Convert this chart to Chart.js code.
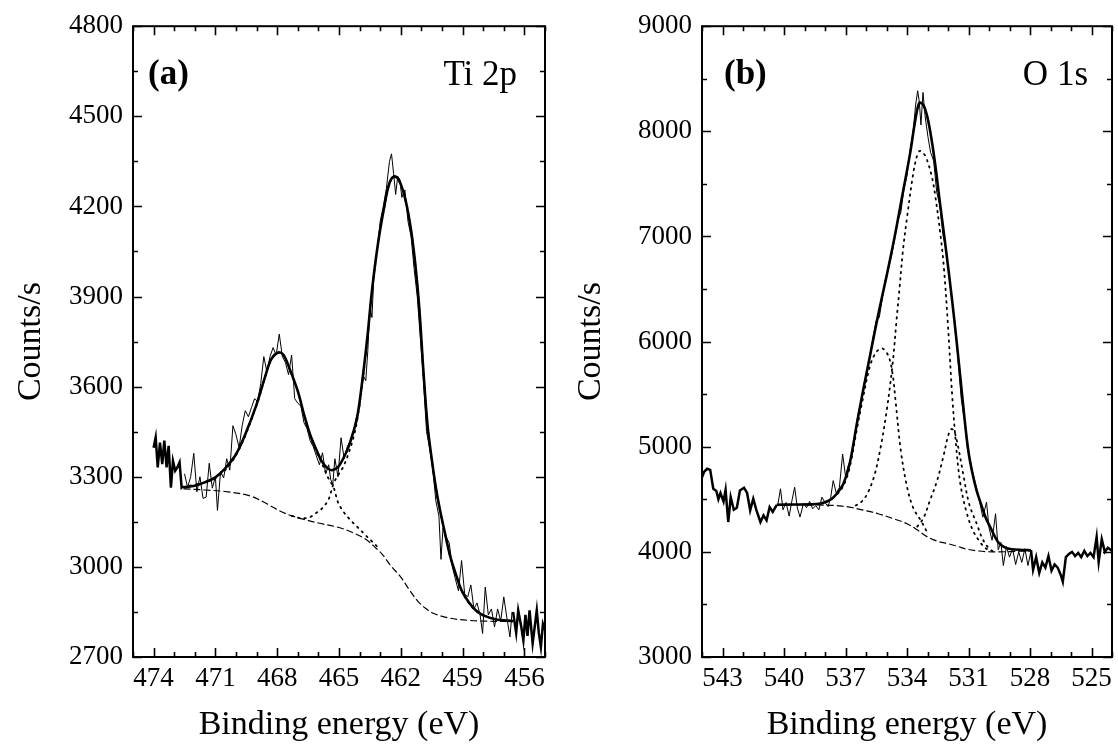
<!DOCTYPE html>
<html>
<head>
<meta charset="utf-8">
<script src="https://cdn.jsdelivr.net/npm/chart.js@4.4.1/dist/chart.umd.min.js"></script>
<style>
html,body{margin:0;padding:0;background:#fff;}
#wrap{position:relative;width:1118px;height:751px;background:#fff;}
canvas{position:absolute;top:0;}
</style>
</head>
<body>
<div id="wrap">
<canvas id="ca" width="559" height="751" style="left:0"></canvas>
<canvas id="cb" width="559" height="751" style="left:559px"></canvas>
</div>
<script>
// ---------- Panel (a) Ti 2p ----------
const tiXTicks = [474,471,468,465,462,459,456];
const tiYTicks = [2700,3000,3300,3600,3900,4200,4500,4800];

const tiRawE = [472.5,472.35,472.2,472.05,471.9,471.75,471.6,471.45,471.3,471.15,471.0,470.9,470.75,470.6,470.45,470.3,470.15,470.0,469.85,469.7,469.55,469.4,469.25,469.1,468.95,468.8,468.65,468.5,468.35,468.2,468.05,467.9,467.75,467.6,467.45,467.3,467.15,467.0,466.85,466.7,466.55,466.4,466.25,466.1,465.95,465.8,465.65,465.5,465.4,465.3,465.2,465.05,464.9,464.75,464.6,464.45,464.3,464.15,464.0,463.85,463.7,463.6,463.5,463.4,463.3,463.15,463.0,462.85,462.7,462.55,462.45,462.35,462.25,462.15,462.05,461.95,461.8,461.65,461.5,461.35,461.2,461.05,460.9,460.75,460.6,460.45,460.3,460.15,460.05,459.95,459.8,459.65,459.5,459.35,459.2,459.05,458.9,458.75,458.6,458.45,458.3,458.15,458.03,457.9,457.75,457.6,457.45,457.3,457.15,457.0,456.85,456.7,456.6];
const tiRawC = [3310,3265,3300,3378,3250,3300,3228,3232,3345,3262,3300,3188,3318,3296,3360,3322,3470,3440,3397,3470,3520,3500,3530,3560,3550,3610,3700,3650,3700,3730,3705,3775,3700,3680,3640,3705,3560,3545,3535,3480,3460,3420,3400,3370,3340,3380,3310,3340,3290,3276,3360,3300,3430,3360,3400,3420,3450,3500,3530,3640,3620,3720,3870,3830,3980,4050,4150,4200,4260,4350,4375,4310,4240,4300,4290,4230,4255,4150,4100,3990,3900,3760,3620,3450,3395,3330,3220,3170,3025,3130,3100,3080,3000,2960,2920,3021,2910,2900,2940,2860,2880,2840,2778,2933,2840,2860,2800,2860,2820,2900,2830,2767,2850];

const tiEdgeLE = [474.0,473.9,473.8,473.69,473.58,473.48,473.37,473.27,473.16,473.06,472.95,472.85,472.74,472.64,472.55];
const tiEdgeLC = [3397,3431,3331,3414,3342,3420,3331,3403,3264,3353,3320,3331,3348,3264,3270];
const tiEdgeRE = [456.55,456.4,456.3,456.15,456.05,455.95,455.85,455.75,455.6,455.5,455.4,455.3,455.2,455.1,455.0];
const tiEdgeRC = [2850,2780,2855,2800,2755,2840,2770,2855,2745,2800,2855,2780,2733,2810,2790];

const tiFitE = [472.55,472.0,471.5,471.0,470.5,470.0,469.5,469.0,468.6,468.3,467.95,467.7,467.4,467.0,466.7,466.4,466.1,465.85,465.55,465.33,465.05,464.8,464.55,464.3,464.1,463.85,463.6,463.4,463.1,462.8,462.55,462.3,462.05,461.75,461.5,461.3,461.1,460.9,460.7,460.5,460.3,460.1,459.85,459.6,459.3,459.05,458.7,458.35,457.9,457.3,456.55];
const tiFitC = [3265,3270,3282,3298,3330,3375,3450,3541,3630,3690,3714,3706,3660,3585,3508,3440,3390,3353,3328,3322,3332,3360,3397,3450,3505,3630,3780,3920,4080,4200,4278,4300,4282,4215,4120,4010,3860,3650,3470,3360,3265,3190,3110,3035,2970,2922,2882,2855,2836,2824,2820];

const tiBgE = [472.55,471.5,470.4,469.3,468.5,467.9,467.3,466.7,466.0,465.0,464.2,463.6,463.2,462.9,462.5,462.0,461.6,461.2,460.8,460.4,459.8,459.2,458.2,456.55];
const tiBgC = [3260,3256,3250,3236,3210,3187,3170,3158,3146,3131,3110,3087,3062,3042,3005,2966,2925,2888,2862,2845,2832,2825,2820,2818];

const tiP1E = [472.55,471.0,470.0,469.0,468.6,468.3,467.95,467.7,467.4,467.0,466.7,466.4,466.1,465.85,465.55,465.25,465.05,464.8,464.5,464.1,463.75,463.4,463.0];
const tiP1C = [3265,3296,3372,3538,3628,3688,3712,3704,3658,3583,3505,3436,3384,3348,3300,3262,3215,3185,3160,3132,3108,3085,3058];

const tiP2E = [467.3,466.8,466.4,466.1,465.8,465.5,465.25,465.0,464.8,464.55,464.3,464.1,463.85,463.6,463.4,463.1,462.8,462.55,462.3,462.05,461.75,461.5,461.3,461.1,460.9,460.7,460.5,460.3,460.1,459.85,459.6,459.3,459.05,458.7,458.35,457.9];
const tiP2C = [3170,3162,3166,3180,3196,3226,3280,3310,3332,3375,3430,3495,3622,3774,3916,4078,4198,4276,4298,4280,4213,4118,4008,3858,3648,3468,3358,3263,3188,3108,3033,2968,2920,2880,2853,2834];

// ---------- Panel (b) O 1s ----------
const oXTicks = [543,540,537,534,531,528,525];
const oYTicks = [3000,4000,5000,6000,7000,8000,9000];

const oRawE = [540.3,540.17,540.05,539.9,539.75,539.6,539.48,539.35,539.22,539.05,538.9,538.75,538.6,538.45,538.3,538.15,538.0,537.85,537.72,537.6,537.45,537.3,537.14,537.0,536.85,536.7,536.55,536.4,536.25,536.1,535.95,535.8,535.65,535.5,535.35,535.2,535.05,534.9,534.75,534.6,534.45,534.3,534.15,534.0,533.85,533.7,533.58,533.48,533.4,533.32,533.22,533.12,532.98,532.85,532.7,532.55,532.4,532.25,532.1,531.95,531.8,531.65,531.5,531.35,531.2,531.05,530.9,530.75,530.6,530.45,530.3,530.12,530.0,529.85,529.68,529.55,529.42,529.3,529.15,529.0,528.85,528.7,528.55,528.4,528.25,528.1,527.95];
const oRawC = [4450,4600,4400,4470,4340,4500,4615,4420,4331,4460,4420,4480,4410,4440,4400,4520,4470,4430,4520,4678,4560,4610,4931,4720,4830,4900,5100,5300,5420,5600,5700,5880,6050,6200,6230,6420,6600,6700,6820,6980,7150,7230,7450,7580,7820,8000,8250,8386,8280,8060,8370,8150,7950,7800,7720,7420,7300,7020,6880,6640,6400,6150,5800,5450,5250,4980,4850,4720,4600,4470,4330,4473,4230,4110,4363,4020,4090,3870,4050,3950,4030,3880,4000,3900,4030,3870,4010];

const oEdgeLE = [544.0,543.9,543.75,543.6,543.45,543.3,543.2,543.1,542.95,542.85,542.72,542.6,542.45,542.3,542.15,541.95,541.8,541.65,541.5,541.35,541.15,541.0,540.85,540.7,540.55,540.35];
const oEdgeLC = [4710,4760,4790,4780,4600,4580,4500,4560,4480,4590,4284,4520,4400,4420,4584,4610,4560,4394,4505,4400,4284,4347,4300,4426,4380,4448];
const oEdgeRE = [527.95,527.85,527.7,527.55,527.4,527.25,527.1,526.95,526.8,526.65,526.5,526.4,526.25,526.1,525.95,525.8,525.65,525.5,525.35,525.2,525.05,524.9,524.75,524.65,524.5,524.35,524.2,524.0];
const oEdgeRC = [4016,3830,3950,3800,3900,3850,3960,3820,3880,3850,3780,3716,3950,3980,4000,3960,3990,3950,4010,3960,3990,3950,4142,3905,4120,4000,4040,4010];

const oFitE = [540.35,539.5,538.7,538.2,537.9,537.66,537.4,537.1,536.8,536.45,536.17,535.8,535.4,535.0,534.6,534.2,533.84,533.6,533.4,533.2,533.0,532.8,532.6,532.4,532.2,531.95,531.7,531.45,531.2,531.0,530.8,530.6,530.38,530.15,529.94,529.7,529.5,529.2,528.9,528.4,527.95];
const oFitC = [4448,4450,4452,4460,4480,4505,4560,4647,4836,5214,5506,5870,6260,6620,7000,7420,7800,8100,8270,8250,8130,7920,7650,7330,7030,6640,6220,5760,5280,4950,4740,4580,4450,4320,4236,4140,4080,4040,4025,4018,4016];

const oBgE = [540.35,539.0,538.0,537.3,536.8,536.2,535.4,534.7,534.0,533.5,533.0,532.5,531.94,531.5,531.07,530.5,529.85,529.0,527.95];
const oBgC = [4448,4448,4445,4438,4426,4400,4363,4318,4268,4210,4142,4100,4075,4050,4025,4008,4000,4002,4010];

const oP1E = [537.9,537.5,537.1,536.8,536.45,536.17,535.8,535.5,535.2,534.9,534.7,534.55,534.3,534.0,533.7,533.3,533.0];
const oP1C = [4478,4530,4630,4800,5160,5440,5770,5900,5935,5860,5690,5420,4960,4620,4420,4290,4180];

const oP2E = [536.5,536.2,535.93,535.6,535.3,535.0,534.7,534.5,534.36,534.2,534.0,533.73,533.55,533.39,533.2,533.06,532.8,532.63,532.37,532.2,532.0,531.8,531.6,531.4,531.1,530.8,530.5,530.2,529.9];
const oP2C = [4440,4480,4555,4720,4980,5330,5790,6228,6513,6864,7177,7557,7740,7813,7790,7747,7580,7398,7019,6702,6150,5500,5000,4650,4380,4210,4110,4040,4005];

const oP3E = [533.5,533.2,532.88,532.53,532.2,532.0,531.84,531.7,531.5,531.23,530.97,530.6,530.28,529.9,529.6];
const oP3C = [4240,4320,4489,4678,4930,5100,5167,5150,4994,4710,4457,4268,4110,4016,3998];

// ---------- drawing ----------
const FONT = "'Liberation Serif','Times New Roman',serif";
function xy(E, C){ return E.map((e,i)=>({x:e, y:C[i]})); }
function range(a,b,s){ const r=[]; for(let v=a; v<=b+1e-9; v+=s) r.push(Math.round(v*1000)/1000); return r; }

const framePlugin = {
  id:'frame',
  afterDraw(chart, args, o){
    const ctx = chart.ctx, a = chart.chartArea, xs = chart.scales.x, ys = chart.scales.y;
    ctx.save();
    ctx.strokeStyle = '#000'; ctx.fillStyle = '#000';
    ctx.lineWidth = 1.6;
    ctx.beginPath();
    o.xMinor.forEach(v=>{
      const px = Math.round(xs.getPixelForValue(v))+0.5;
      const len = o.xMajor.includes(v) ? 9 : 5;
      ctx.moveTo(px, a.bottom); ctx.lineTo(px, a.bottom-len);
      ctx.moveTo(px, a.top); ctx.lineTo(px, a.top+len);
    });
    o.yMinor.forEach(v=>{
      const py = Math.round(ys.getPixelForValue(v))+0.5;
      const len = o.yMajor.includes(v) ? 9 : 5;
      ctx.moveTo(a.left, py); ctx.lineTo(a.left+len, py);
      ctx.moveTo(a.right, py); ctx.lineTo(a.right-len, py);
    });
    ctx.stroke();
    ctx.lineWidth = 2;
    ctx.strokeRect(a.left, a.top, a.right-a.left, a.bottom-a.top);
    // panel labels
    ctx.textBaseline = 'alphabetic';
    ctx.font = 'bold 35px ' + FONT; ctx.textAlign = 'left';
    ctx.fillText(o.panel, a.left + o.panelDx, 84);
    ctx.font = '35px ' + FONT; ctx.textAlign = 'right';
    ctx.fillText(o.elem, a.right - o.elemDx, 85);
    // axis titles
    ctx.font = '34px ' + FONT; ctx.textAlign = 'center';
    ctx.fillText('Binding energy (eV)', (a.left+a.right)/2, 734);
    ctx.translate(o.yTitleX, (a.top+a.bottom)/2);
    ctx.rotate(-Math.PI/2);
    ctx.textBaseline = 'middle';
    ctx.fillText('Counts/s', 0, 0);
    ctx.restore();
  }
};

function makePanel(id, cfg){
  const ds = [
    {data: xy(cfg.fitE, cfg.fitC), borderWidth: 2.6, tension: 0.35},
    {data: xy(cfg.edgeLE, cfg.edgeLC), borderWidth: 2.5, tension: 0},
    {data: xy(cfg.edgeRE, cfg.edgeRC), borderWidth: 2.5, tension: 0},
    {data: xy(cfg.rawE, cfg.rawC), borderWidth: 1, tension: 0},
    {data: xy(cfg.bgE, cfg.bgC), borderWidth: 1.2, borderDash: [7,3], tension: 0.35}
  ];
  cfg.peaks.forEach(p => ds.push({data: xy(p[0], p[1]), borderWidth: 1.8, borderDash: [1.5,5], borderCapStyle:'round', tension: 0.35}));
  ds.forEach(d => { d.borderColor = '#000'; d.pointRadius = 0; d.showLine = true; d.fill = false; });
  return new Chart(document.getElementById(id), {
    type: 'scatter',
    data: { datasets: ds },
    options: {
      responsive: false, animation: false, devicePixelRatio: 1,
      layout: { padding: { left: 0, right: cfg.padRight, top: 25, bottom: 0 } },
      plugins: { legend: {display:false}, tooltip: {enabled:false},
        frame: { xMajor: cfg.xTicks, xMinor: cfg.xMinor, yMajor: cfg.yTicks, yMinor: cfg.yMinor,
                 panel: cfg.panel, panelDx: cfg.panelDx, elem: cfg.elem, elemDx: cfg.elemDx, yTitleX: cfg.yTitleX } },
      scales: {
        x: { type:'linear', reverse: true, min: cfg.xMin, max: cfg.xMax,
             grid: {display:false, drawTicks:false}, border: {display:false},
             afterFit: s => { s.height = 94; },
             afterBuildTicks: s => { s.ticks = cfg.xTicks.map(v => ({value: v})); },
             ticks: { color:'#000', padding: 6, maxRotation: 0, autoSkip: false,
                      font: {family: FONT, size: 27}, callback: v => String(v) } },
        y: { type:'linear', min: cfg.yMin, max: cfg.yMax,
             grid: {display:false, drawTicks:false}, border: {display:false},
             afterFit: s => { s.width = cfg.yWidth; },
             afterBuildTicks: s => { s.ticks = cfg.yTicks.map(v => ({value: v})); },
             ticks: { color:'#000', padding: 10, autoSkip: false,
                      font: {family: FONT, size: 27}, callback: v => String(v) } }
      }
    },
    plugins: [framePlugin]
  });
}

makePanel('ca', {
  fitE: tiFitE, fitC: tiFitC, rawE: tiRawE, rawC: tiRawC,
  edgeLE: tiEdgeLE, edgeLC: tiEdgeLC, edgeRE: tiEdgeRE, edgeRC: tiEdgeRC,
  bgE: tiBgE, bgC: tiBgC, peaks: [[tiP1E, tiP1C],[tiP2E, tiP2C]],
  xMin: 455, xMax: 475, yMin: 2700, yMax: 4800,
  xTicks: tiXTicks, yTicks: tiYTicks, xMinor: range(455,475,1), yMinor: range(2700,4800,150),
  panel: '(a)', panelDx: 15, elem: 'Ti 2p', elemDx: 28, yTitleX: 31, yWidth: 133, padRight: 14
});
makePanel('cb', {
  fitE: oFitE, fitC: oFitC, rawE: oRawE, rawC: oRawC,
  edgeLE: oEdgeLE, edgeLC: oEdgeLC, edgeRE: oEdgeRE, edgeRC: oEdgeRC,
  bgE: oBgE, bgC: oBgC, peaks: [[oP1E, oP1C],[oP2E, oP2C],[oP3E, oP3C]],
  xMin: 524, xMax: 544, yMin: 3000, yMax: 9000,
  xTicks: oXTicks, yTicks: oYTicks, xMinor: range(524,544,1), yMinor: range(3000,9000,500),
  panel: '(b)', panelDx: 22, elem: 'O 1s', elemDx: 24, yTitleX: 32, yWidth: 143, padRight: 5
});
</script>
</body>
</html>
